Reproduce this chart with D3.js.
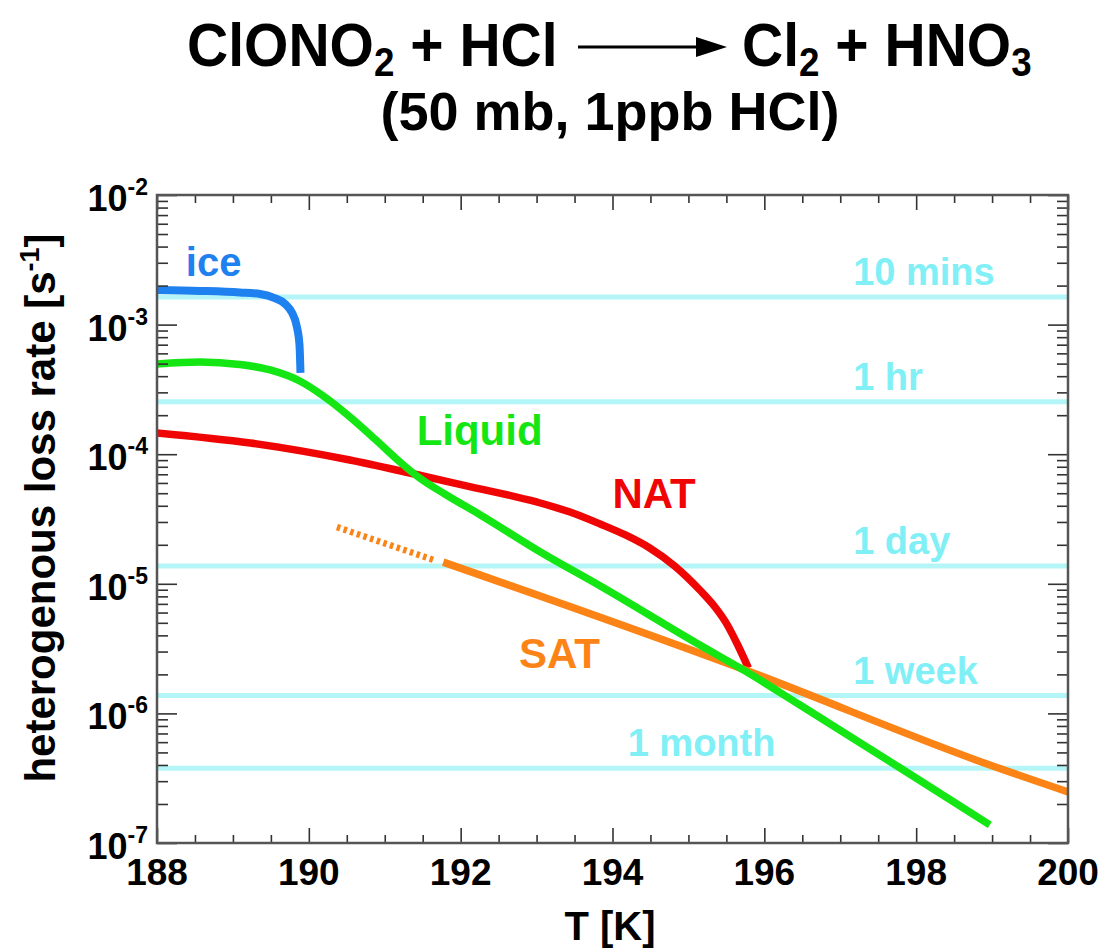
<!DOCTYPE html>
<html><head><meta charset="utf-8">
<script src="https://cdn.jsdelivr.net/npm/d3@7"></script>
<style>
body{margin:0;background:#fff}
svg{display:block}
text{font-family:"Liberation Sans",Arial,Helvetica,sans-serif;font-weight:bold}
</style>
</head><body>
<svg id="chart" width="1108" height="950"></svg>
<script>
// ---- data (T in K, loss rate in s^-1) ----
const iceT = [188.0, 188.57, 189.09, 189.36, 189.55, 189.69, 189.78, 189.84, 189.877, 189.89];
const iceK = [1.85e-3, 1.82e-3, 1.77e-3, 1.72e-3, 1.60e-3, 1.44e-3, 1.23e-3, 9.76e-4, 6.96e-4, 4.24e-4];

const liquidT = [188.0, 188.57, 189.09, 189.49, 189.88, 190.21, 190.54, 190.87, 191.2, 191.46, 191.79, 192.26, 193.05, 193.84, 195.15, 195.75, 196.47, 197.79, 198.97];
const liquidK = [4.97e-4, 5.15e-4, 4.92e-4, 4.47e-4, 3.67e-4, 2.76e-4, 1.94e-4, 1.31e-4, 8.71e-5, 6.55e-5, 4.93e-5, 3.4e-5, 1.76e-5, 9.62e-6, 3.37e-6, 2.12e-6, 1.16e-6, 3.79e-7, 1.38e-7];

const natT = [188.0, 189.23, 190.54, 191.33, 192.12, 193.0, 193.44, 193.84, 194.17, 194.49, 194.82, 195.15, 195.35, 195.51, 195.65, 195.79];
const natK = [1.46e-4, 1.22e-4, 9.02e-5, 7.16e-5, 5.62e-5, 4.28e-5, 3.58e-5, 2.89e-5, 2.38e-5, 1.89e-5, 1.37e-5, 8.95e-6, 6.62e-6, 4.85e-6, 3.37e-6, 2.24e-6];

const satDotT = [190.37, 191.64];
const satDotK = [2.74e-5, 1.53e-5];
const satT = [191.77, 195.75, 198.97, 200.0];
const satK = [1.47e-5, 2.16e-6, 4.0e-7, 2.48e-7];

const timescaleLabels = ["10 mins", "1 hr", "1 day", "1 week", "1 month"];
const timescaleRates = [1.634e-3, 2.54e-4, 1.37e-5, 1.374e-6, 3.77e-7];
const timescaleLabelT = [197.17, 197.17, 197.17, 197.17, 194.2];

const xTickValues = [188, 190, 192, 194, 196, 198, 200];
const yTickValues = [1e-7, 1e-6, 1e-5, 1e-4, 1e-3, 1e-2];

const curveLabels = ["ice", "Liquid", "NAT", "SAT"];
const curveLabelT = [188.38, 191.42, 194.0, 192.77];
const curveLabelK = [2.37e-3, 1.18e-4, 3.85e-5, 2.24e-6];

// ---- layout ----
const L = 157, R = 1068, T = 195, B = 843;
const svg = d3.select("#chart");
const x = d3.scaleLinear().domain([188, 200]).range([L, R]);
const y = d3.scaleLog().domain([1e-7, 1e-2]).range([B, T]);

const colors = {ice: "#1f80ef", liquid: "#14e614", nat: "#f00505", sat: "#fc8417", cyanLine: "#b4f6f8", cyanText: "#80f0f6"};

// title
const t1 = svg.append("g").attr("transform", "translate(187,66) scale(0.92,1)");
const left = t1.append("text").attr("font-size", 62).attr("fill", "#000");
left.append("tspan").text("ClONO");
left.append("tspan").attr("font-size", 40).attr("dy", 10).text("2");
left.append("tspan").attr("dy", -10).text(" + HCl");
const t2 = svg.append("g").attr("transform", "translate(742,66) scale(0.92,1)");
const right = t2.append("text").attr("font-size", 62).attr("fill", "#000");
right.append("tspan").text("Cl");
right.append("tspan").attr("font-size", 40).attr("dy", 10).text("2");
right.append("tspan").attr("dy", -10).text(" + HNO");
right.append("tspan").attr("font-size", 40).attr("dy", 10).text("3");
// arrow
svg.append("line").attr("x1", 578).attr("x2", 700).attr("y1", 47).attr("y2", 47).attr("stroke", "#000").attr("stroke-width", 3);
svg.append("path").attr("d", "M696,37 L727,47 L696,57 Z").attr("fill", "#000");

svg.append("text").attr("x", 610).attr("y", 130).attr("text-anchor", "middle").attr("font-size", 54)
  .text("(50 mb, 1ppb HCl)");

// clip
svg.append("defs").append("clipPath").attr("id", "clip").append("rect")
  .attr("x", L).attr("y", T).attr("width", R - L).attr("height", B - T);
const plot = svg.append("g").attr("clip-path", "url(#clip)");

// timescale lines
plot.selectAll("line.ts").data(timescaleRates).join("line").attr("class", "ts")
  .attr("x1", L).attr("x2", R).attr("y1", d => y(d)).attr("y2", d => y(d))
  .attr("stroke", colors.cyanLine).attr("stroke-width", 5);
svg.selectAll("text.ts").data(timescaleLabels).join("text").attr("class", "ts")
  .attr("x", (d, i) => x(timescaleLabelT[i])).attr("y", (d, i) => y(timescaleRates[i]) - 12)
  .attr("font-size", 38).attr("fill", colors.cyanText).text(d => d);

// curves
const line = d3.line().x(d => x(d[0])).y(d => y(d[1])).curve(d3.curveMonotoneX);
const zip = (a, b) => a.map((v, i) => [v, b[i]]);
function drawCurve(data, color, w, dash) {
  const p = plot.append("path").datum(data).attr("d", line).attr("fill", "none")
    .attr("stroke", color).attr("stroke-width", w).attr("stroke-linecap", "butt").attr("stroke-linejoin", "round");
  if (dash) p.attr("stroke-dasharray", dash);
}
drawCurve(zip(natT, natK), colors.nat, 7.5);
drawCurve(zip(satDotT, satDotK), colors.sat, 6.5, "3.5,3.5");
drawCurve(zip(satT, satK), colors.sat, 7.5);
drawCurve(zip(liquidT, liquidK), colors.liquid, 7.5);
drawCurve(zip(iceT, iceK), colors.ice, 8);

// curve labels
const curveColors = [colors.ice, colors.liquid, colors.nat, colors.sat];
svg.selectAll("text.cl").data(curveLabels).join("text").attr("class", "cl")
  .attr("x", (d, i) => x(curveLabelT[i])).attr("y", (d, i) => y(curveLabelK[i]))
  .attr("font-size", (d, i) => i === 0 ? 40 : 42).attr("fill", (d, i) => curveColors[i]).text(d => d);

// ticks
const minorX = d3.range(188, 200.001, 0.5).filter(v => v % 2 !== 0);
const minorY = [];
for (let e = -7; e < -2; e++) for (let k = 2; k <= 9; k++) minorY.push(k * Math.pow(10, e));
const tickStyle = g => { g.select(".domain").remove(); g.selectAll("line").attr("stroke", "#333").attr("stroke-width", 1.6); g.selectAll("text").remove(); };
svg.append("g").attr("transform", `translate(0,${B})`).call(d3.axisBottom(x).tickValues(xTickValues).tickSize(-15)).call(tickStyle);
svg.append("g").attr("transform", `translate(0,${B})`).call(d3.axisBottom(x).tickValues(minorX).tickSize(-8)).call(tickStyle);
svg.append("g").attr("transform", `translate(0,${T})`).call(d3.axisTop(x).tickValues(xTickValues).tickSize(-15)).call(tickStyle);
svg.append("g").attr("transform", `translate(0,${T})`).call(d3.axisTop(x).tickValues(minorX).tickSize(-8)).call(tickStyle);
svg.append("g").attr("transform", `translate(${L},0)`).call(d3.axisLeft(y).tickValues(yTickValues).tickSize(-20)).call(tickStyle);
svg.append("g").attr("transform", `translate(${L},0)`).call(d3.axisLeft(y).tickValues(minorY).tickSize(-11)).call(tickStyle);
svg.append("g").attr("transform", `translate(${R},0)`).call(d3.axisRight(y).tickValues(yTickValues).tickSize(-20)).call(tickStyle);
svg.append("g").attr("transform", `translate(${R},0)`).call(d3.axisRight(y).tickValues(minorY).tickSize(-11)).call(tickStyle);

// frame
svg.append("rect").attr("x", L).attr("y", T).attr("width", R - L).attr("height", B - T)
  .attr("fill", "none").attr("stroke", "#555").attr("stroke-width", 2.5);

// tick labels
svg.selectAll("text.xt").data(xTickValues).join("text").attr("class", "xt")
  .attr("x", d => x(d)).attr("y", B + 42).attr("text-anchor", "middle").attr("font-size", 37).text(d => d);
const yl = svg.selectAll("text.yt").data(yTickValues).join("text").attr("class", "yt")
  .attr("x", 148).attr("y", d => y(d) + 16).attr("text-anchor", "end").attr("font-size", 36);
yl.append("tspan").text("10");
yl.append("tspan").attr("font-size", 23).attr("dy", -16).text(d => Math.round(Math.log10(d)));

// axis titles
svg.append("text").attr("x", 610).attr("y", 940).attr("text-anchor", "middle").attr("font-size", 40).text("T [K]");
const yt = svg.append("text").attr("transform", "translate(55,508) rotate(-90)").attr("text-anchor", "middle").attr("font-size", 42);
yt.append("tspan").text("heterogenous loss rate [s");
yt.append("tspan").attr("font-size", 27).attr("dy", -16).text("-1");
yt.append("tspan").attr("dy", 16).text("]");
</script>
</body></html>
